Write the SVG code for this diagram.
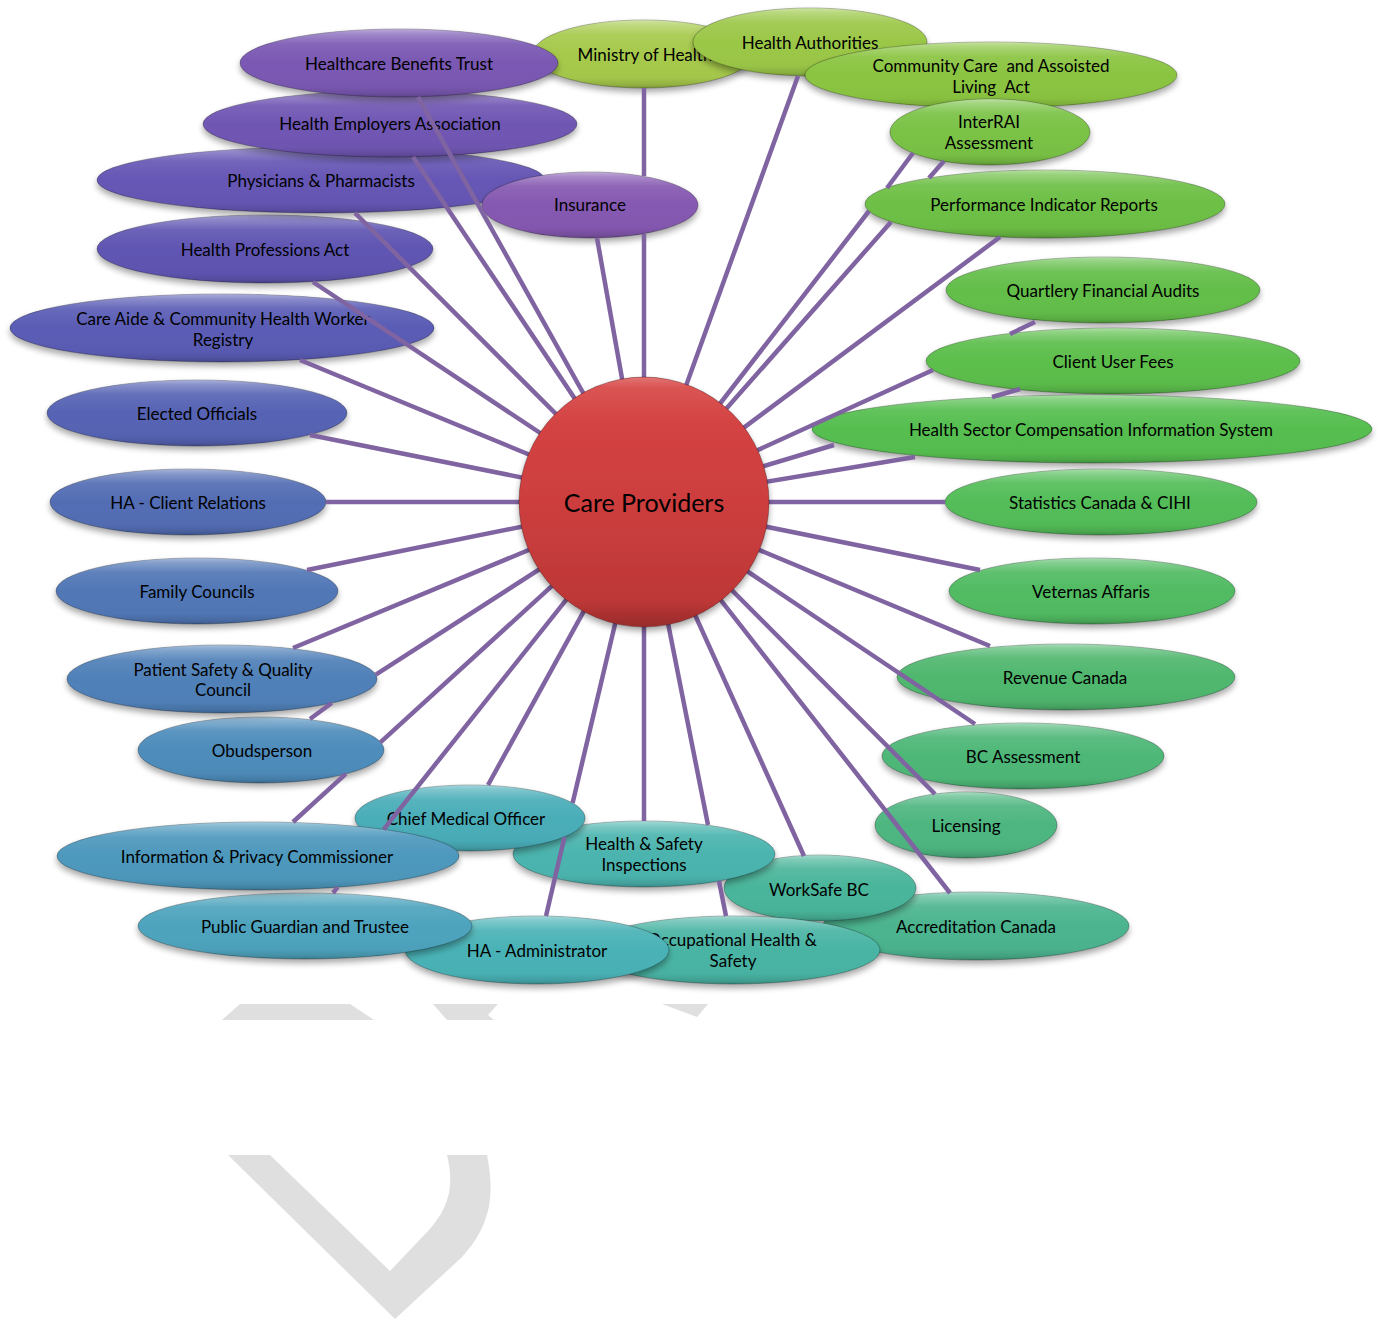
<svg xmlns="http://www.w3.org/2000/svg" width="1382" height="1321" viewBox="0 0 1382 1321">
<defs>
<style>
.n text{font-family:Lato,"Liberation Sans",sans-serif;font-size:17px;fill:#000;text-anchor:middle;dominant-baseline:central}
.n .big{font-size:25px}
.b{filter:url(#sh);stroke:#000;stroke-opacity:.28;stroke-width:1}
.g{fill:url(#gl)}
#connectors line{stroke:#8064a2;stroke-width:4.5}
.wm{fill:#dfdfdf}
</style>
<linearGradient id="gl" x1="0" y1="0" x2="0" y2="1">
<stop offset="0" stop-color="#fff" stop-opacity=".5"/>
<stop offset=".07" stop-color="#fff" stop-opacity=".3"/>
<stop offset=".22" stop-color="#fff" stop-opacity=".08"/>
<stop offset=".5" stop-color="#fff" stop-opacity="0"/>
<stop offset=".85" stop-color="#000" stop-opacity=".02"/>
<stop offset=".95" stop-color="#000" stop-opacity=".12"/>
<stop offset="1" stop-color="#000" stop-opacity=".25"/>
</linearGradient>
<linearGradient id="red" x1="0" y1="0" x2="0" y2="1">
<stop offset="0" stop-color="#d84545"/>
<stop offset=".5" stop-color="#cd3e3e"/>
<stop offset="1" stop-color="#b93535"/>
</linearGradient>
<linearGradient id="redg" x1="0" y1="0" x2="0" y2="1">
<stop offset="0" stop-color="#fff" stop-opacity=".25"/>
<stop offset=".04" stop-color="#fff" stop-opacity=".08"/>
<stop offset=".2" stop-color="#fff" stop-opacity="0"/>
<stop offset=".9" stop-color="#000" stop-opacity="0"/>
<stop offset="1" stop-color="#000" stop-opacity=".18"/>
</linearGradient>
<filter id="sh" x="-10%" y="-30%" width="120%" height="170%">
<feGaussianBlur in="SourceAlpha" stdDeviation="3"/>
<feOffset dy="4"/>
<feComponentTransfer><feFuncA type="linear" slope=".35"/></feComponentTransfer>
<feMerge><feMergeNode/><feMergeNode in="SourceGraphic"/></feMerge>
</filter>
</defs>
<rect width="1382" height="1321" fill="#fff"/>
<g id="watermark">
<polygon class="wm" points="222,1020 240,1004 350,1004 374,1020"/>
<polygon class="wm" points="433,1004 498,1004 488,1015 494,1020 447,1020"/>
<polygon class="wm" points="662,1004 708,1004 697,1017"/>
<path class="wm" d="M228,1155 L270,1155 L390,1271 L428,1231 C448,1209 455,1188 447,1155 L487,1155 C495,1195 491,1225 462,1257 L395,1319 Z"/>
</g>
<g id="n1" class="n"><ellipse class="b" cx="643" cy="54" rx="110" ry="34" fill="#a6c94c"/><ellipse class="g" cx="643" cy="54" rx="110" ry="34"/><text x="645" y="54">Ministry of Health</text></g>
<g id="n2" class="n"><ellipse class="b" cx="810" cy="42" rx="117" ry="34" fill="#9bc746"/><ellipse class="g" cx="810" cy="42" rx="117" ry="34"/><text x="810" y="42">Health Authorities</text></g>
<g id="n3" class="n"><ellipse class="b" cx="991" cy="75" rx="186" ry="33" fill="#8ac441"/><ellipse class="g" cx="991" cy="75" rx="186" ry="33"/><text x="991" y="65" xml:space="preserve">Community Care  and Assoisted</text><text x="991" y="86" xml:space="preserve">Living  Act</text></g>
<g id="n4" class="n"><ellipse class="b" cx="990" cy="132" rx="100" ry="33" fill="#79c244"/><ellipse class="g" cx="990" cy="132" rx="100" ry="33"/><text x="989" y="121">InterRAI</text><text x="989" y="142">Assessment</text></g>
<g id="n5" class="n"><ellipse class="b" cx="1045" cy="204" rx="180" ry="34" fill="#6dbf45"/><ellipse class="g" cx="1045" cy="204" rx="180" ry="34"/><text x="1044" y="204">Performance Indicator Reports</text></g>
<g id="n6" class="n"><ellipse class="b" cx="1103" cy="290" rx="157" ry="33" fill="#63be48"/><ellipse class="g" cx="1103" cy="290" rx="157" ry="33"/><text x="1103" y="290">Quartlery Financial Audits</text></g>
<g id="n7" class="n"><ellipse class="b" cx="1113" cy="361" rx="187" ry="33" fill="#5bbe4b"/><ellipse class="g" cx="1113" cy="361" rx="187" ry="33"/><text x="1113" y="361">Client User Fees</text></g>
<g id="n8" class="n"><ellipse class="b" cx="1092" cy="429" rx="280" ry="34" fill="#55be50"/><ellipse class="g" cx="1092" cy="429" rx="280" ry="34"/><text x="1091" y="429">Health Sector Compensation Information System</text></g>
<g id="n9" class="n"><ellipse class="b" cx="1101" cy="502" rx="156" ry="33" fill="#52bd58"/><ellipse class="g" cx="1101" cy="502" rx="156" ry="33"/><text x="1100" y="502">Statistics Canada &amp; CIHI</text></g>
<g id="n10" class="n"><ellipse class="b" cx="1092" cy="591" rx="143" ry="33" fill="#51bb62"/><ellipse class="g" cx="1092" cy="591" rx="143" ry="33"/><text x="1091" y="591">Veternas Affaris</text></g>
<g id="n11" class="n"><ellipse class="b" cx="1066" cy="677" rx="169" ry="33" fill="#4fb76e"/><ellipse class="g" cx="1066" cy="677" rx="169" ry="33"/><text x="1065" y="677">Revenue Canada</text></g>
<g id="n12" class="n"><ellipse class="b" cx="1023" cy="756" rx="141" ry="33" fill="#4eb777"/><ellipse class="g" cx="1023" cy="756" rx="141" ry="33"/><text x="1023" y="756">BC Assessment</text></g>
<g id="n13" class="n"><ellipse class="b" cx="966" cy="825" rx="91" ry="33" fill="#4db680"/><ellipse class="g" cx="966" cy="825" rx="91" ry="33"/><text x="966" y="825">Licensing</text></g>
<g id="n14" class="n"><ellipse class="b" cx="976" cy="926" rx="153" ry="34" fill="#4bb48f"/><ellipse class="g" cx="976" cy="926" rx="153" ry="34"/><text x="976" y="926">Accreditation Canada</text></g>
<g id="n15" class="n"><ellipse class="b" cx="820" cy="888" rx="96" ry="33" fill="#4ab59a"/><ellipse class="g" cx="820" cy="888" rx="96" ry="33"/><text x="819" y="889">WorkSafe BC</text></g>
<g id="n16" class="n"><ellipse class="b" cx="733" cy="950" rx="147" ry="34" fill="#4ab4a4"/><ellipse class="g" cx="733" cy="950" rx="147" ry="34"/><text x="732" y="939">Occupational Health &amp;</text><text x="733" y="960">Safety</text></g>
<g id="n17" class="n"><ellipse class="b" cx="644" cy="854" rx="131" ry="33" fill="#4bb4ae"/><ellipse class="g" cx="644" cy="854" rx="131" ry="33"/><text x="644" y="843">Health &amp; Safety</text><text x="644" y="864">Inspections</text></g>
<g id="n18" class="n"><ellipse class="b" cx="537" cy="950" rx="132" ry="34" fill="#4ab2b6"/><ellipse class="g" cx="537" cy="950" rx="132" ry="34"/><text x="537" y="950">HA - Administrator</text></g>
<g id="n19" class="n"><ellipse class="b" cx="470" cy="818" rx="115" ry="33" fill="#4aadb8"/><ellipse class="g" cx="470" cy="818" rx="115" ry="33"/><text x="466" y="818">Chief Medical Officer</text></g>
<g id="n20" class="n"><ellipse class="b" cx="305" cy="926" rx="167" ry="33" fill="#4ea3bd"/><ellipse class="g" cx="305" cy="926" rx="167" ry="33"/><text x="305" y="926">Public Guardian and Trustee</text></g>
<g id="n21" class="n"><ellipse class="b" cx="258" cy="856" rx="201" ry="34" fill="#4e98bd"/><ellipse class="g" cx="258" cy="856" rx="201" ry="34"/><text x="257" y="856">Information &amp; Privacy Commissioner</text></g>
<g id="n22" class="n"><ellipse class="b" cx="261" cy="750" rx="123" ry="33" fill="#4e8cbb"/><ellipse class="g" cx="261" cy="750" rx="123" ry="33"/><text x="262" y="750">Obudsperson</text></g>
<g id="n23" class="n"><ellipse class="b" cx="222" cy="679" rx="155" ry="34" fill="#4f80b8"/><ellipse class="g" cx="222" cy="679" rx="155" ry="34"/><text x="223" y="669">Patient Safety &amp; Quality</text><text x="223" y="689">Council</text></g>
<g id="n24" class="n"><ellipse class="b" cx="197" cy="591" rx="141" ry="33" fill="#5177b6"/><ellipse class="g" cx="197" cy="591" rx="141" ry="33"/><text x="197" y="591">Family Councils</text></g>
<g id="n25" class="n"><ellipse class="b" cx="188" cy="502" rx="138" ry="33" fill="#526db4"/><ellipse class="g" cx="188" cy="502" rx="138" ry="33"/><text x="188" y="502">HA - Client Relations</text></g>
<g id="n26" class="n"><ellipse class="b" cx="197" cy="413" rx="150" ry="33" fill="#5664b4"/><ellipse class="g" cx="197" cy="413" rx="150" ry="33"/><text x="197" y="413">Elected Officials</text></g>
<g id="n27" class="n"><ellipse class="b" cx="222" cy="328" rx="212" ry="34" fill="#5a5bb5"/><ellipse class="g" cx="222" cy="328" rx="212" ry="34"/><text x="223" y="318">Care Aide &amp; Community Health Worker</text><text x="223" y="339">Registry</text></g>
<g id="n28" class="n"><ellipse class="b" cx="265" cy="249" rx="168" ry="34" fill="#5e55b2"/><ellipse class="g" cx="265" cy="249" rx="168" ry="34"/><text x="265" y="249">Health Professions Act</text></g>
<g id="n29" class="n"><ellipse class="b" cx="321" cy="180" rx="224" ry="33" fill="#6657b5"/><ellipse class="g" cx="321" cy="180" rx="224" ry="33"/><text x="321" y="180">Physicians &amp; Pharmacists</text></g>
<g id="n30" class="n"><ellipse class="b" cx="390" cy="124" rx="187" ry="33" fill="#7056b3"/><ellipse class="g" cx="390" cy="124" rx="187" ry="33"/><text x="390" y="123">Health Employers Association</text></g>
<g id="n31" class="n"><ellipse class="b" cx="399" cy="63" rx="159" ry="34" fill="#7a58b3"/><ellipse class="g" cx="399" cy="63" rx="159" ry="34"/><text x="399" y="63">Healthcare Benefits Trust</text></g>
<g id="n32" class="n"><ellipse class="b" cx="590" cy="205" rx="108" ry="33" fill="#8559b1"/><ellipse class="g" cx="590" cy="205" rx="108" ry="33"/><text x="590" y="204">Insurance</text></g>
<g id="connectors">
<line x1="644" y1="88" x2="644" y2="176"/><line x1="644" y1="234" x2="644" y2="502"/>
<line x1="798" y1="76" x2="644" y2="502"/>
<line x1="913" y1="153" x2="887" y2="188"/><line x1="869" y1="211" x2="644" y2="502"/>
<line x1="944" y1="161" x2="929" y2="178"/><line x1="891" y1="222" x2="644" y2="502"/>
<line x1="1000" y1="237" x2="644" y2="502"/>
<line x1="1035" y1="322" x2="1010" y2="334"/><line x1="933" y1="370" x2="644" y2="502"/>
<line x1="1020" y1="389" x2="992" y2="397"/><line x1="834" y1="445" x2="644" y2="502"/>
<line x1="915" y1="457" x2="644" y2="502"/>
<line x1="945" y1="502" x2="644" y2="502"/>
<line x1="980" y1="570" x2="644" y2="502"/>
<line x1="990" y1="646" x2="644" y2="502"/>
<line x1="975" y1="724" x2="644" y2="502"/>
<line x1="935" y1="794" x2="644" y2="502"/>
<line x1="950" y1="893" x2="644" y2="502"/>
<line x1="804" y1="856" x2="644" y2="502"/>
<line x1="726" y1="916" x2="719" y2="881"/><line x1="708" y1="825" x2="644" y2="502"/>
<line x1="644" y1="821" x2="644" y2="502"/>
<line x1="546" y1="916" x2="564.5" y2="837"/><line x1="572.6" y1="803" x2="644" y2="502"/>
<line x1="488" y1="785" x2="644" y2="502"/>
<line x1="333" y1="893" x2="337.6" y2="887.2"/><line x1="383.7" y1="829.3" x2="644" y2="502"/>
<line x1="293" y1="822" x2="345.8" y2="773.8"/><line x1="380.4" y1="742.3" x2="644" y2="502"/>
<line x1="310" y1="719" x2="331.7" y2="703"/><line x1="375.8" y1="674.6" x2="644" y2="502"/>
<line x1="293" y1="648" x2="644" y2="502"/>
<line x1="307" y1="570" x2="644" y2="502"/>
<line x1="326" y1="502" x2="644" y2="502"/>
<line x1="310" y1="435" x2="644" y2="502"/>
<line x1="300" y1="360" x2="644" y2="502"/>
<line x1="313" y1="282" x2="644" y2="502"/>
<line x1="355" y1="213" x2="644" y2="502"/>
<line x1="413" y1="157" x2="644" y2="502"/>
<line x1="418" y1="97" x2="644" y2="502"/>
<line x1="597" y1="238" x2="644" y2="502"/>
</g>
<g id="n0" class="n"><circle class="b" cx="644" cy="502" r="125" fill="url(#red)" stroke="#8a2020"/><circle cx="644" cy="502" r="124.5" fill="url(#redg)"/><text class="big" x="644" y="502">Care Providers</text></g>
</svg>
